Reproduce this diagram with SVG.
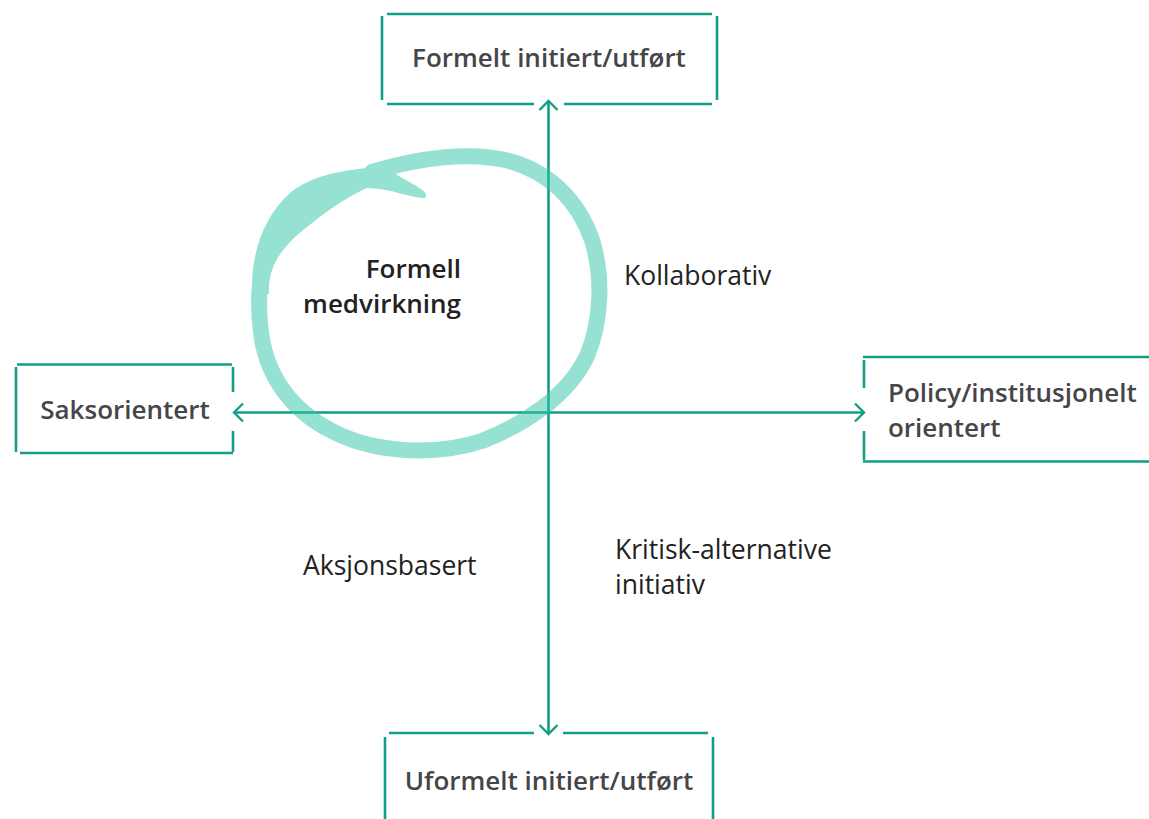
<svg xmlns="http://www.w3.org/2000/svg" width="1149" height="819" viewBox="0 0 1149 819">
<style>
.ln{stroke:#129f86;stroke-width:2.6;fill:none;stroke-linecap:butt}
.ar{stroke:#129f86;stroke-width:2.4;fill:none;stroke-linejoin:miter}
.bx{font-family:"Open Sans","Noto Sans",sans-serif;font-weight:600;font-size:26px;fill:#45454a}
.q{font-family:"Open Sans","Noto Sans",sans-serif;font-weight:400;font-size:26.5px;fill:#222}
.c{font-family:"Open Sans","Noto Sans",sans-serif;font-weight:600;font-size:26px;fill:#222}
</style>
<rect width="1149" height="819" fill="#fff"/>
<g id="connectors">
<line class="ln" x1="548.5" y1="102" x2="548.5" y2="733"/>
<line class="ln" x1="235" y1="412.5" x2="863" y2="412.5"/>
<polyline class="ar" points="539.5,110 548.5,101 557.5,110"/>
<polyline class="ar" points="539.5,725 548.5,734 557.5,725"/>
<polyline class="ar" points="243,403.5 234,412.5 243,421.5"/>
<polyline class="ar" points="855,403.5 864,412.5 855,421.5"/>
</g>
<g id="loop" opacity="0.5">
<path d="M252,292 C251,252 264,216 291,192 C312,176 338,171 368,168 L392,164 L397,175 C405,180 414,184 421,189 C427,193 428,198 423,198 C410,197 395,191 380,189 L367,188 C340,200 312,222 292,240 C276,256 268,272 269,294 Z" fill="#2ec4a6"/>
<path d="M372,172 C420,157 470,152 505,160 C548,170 578,200 592,240 C603,276 602,320 587,356 C567,398 522,425 482,441 C432,457 372,452 332,431 C292,411 266,376 261,332 C258,310 259,295 260,285" fill="none" stroke="#2ec4a6" stroke-width="16" stroke-linecap="round"/>
</g>
<g id="n-top">
<path class="ln" d="M387,14 H712 M382,16 V100 M717,16 V100 M387,104 H534 M564,104 H712"/>
<text class="bx" x="549" y="67" text-anchor="middle">Formelt initiert/utført</text>
</g>
<g id="n-left">
<path class="ln" d="M17,364.5 H232 M16,367 V452 M233,367 V392 M233,431 V452 M20,453 H233"/>
<text class="bx" x="125" y="419" text-anchor="middle">Saksorientert</text>
</g>
<g id="n-right">
<path class="ln" d="M863,357 H1149 M864,360 V388 M864,431 V460 M863,461.5 H1149"/>
<text class="bx" x="888" y="402">Policy/institusjonelt</text>
<text class="bx" x="888" y="437">orientert</text>
</g>
<g id="n-bottom">
<path class="ln" d="M389,733 H534 M563,733 H708 M385,737 V819 M713,737 V819"/>
<text class="bx" x="549" y="790" text-anchor="middle">Uformelt initiert/utført</text>
</g>
<g id="n-center">
<text class="c" x="461" y="278" text-anchor="end">Formell</text>
<text class="c" x="461" y="313" text-anchor="end">medvirkning</text>
</g>
<g id="q-labels">
<text class="q" x="624" y="285">Kollaborativ</text>
<text class="q" x="303" y="575">Aksjonsbasert</text>
<text class="q" x="615" y="559">Kritisk-alternative</text>
<text class="q" x="615" y="594">initiativ</text>
</g>
</svg>
